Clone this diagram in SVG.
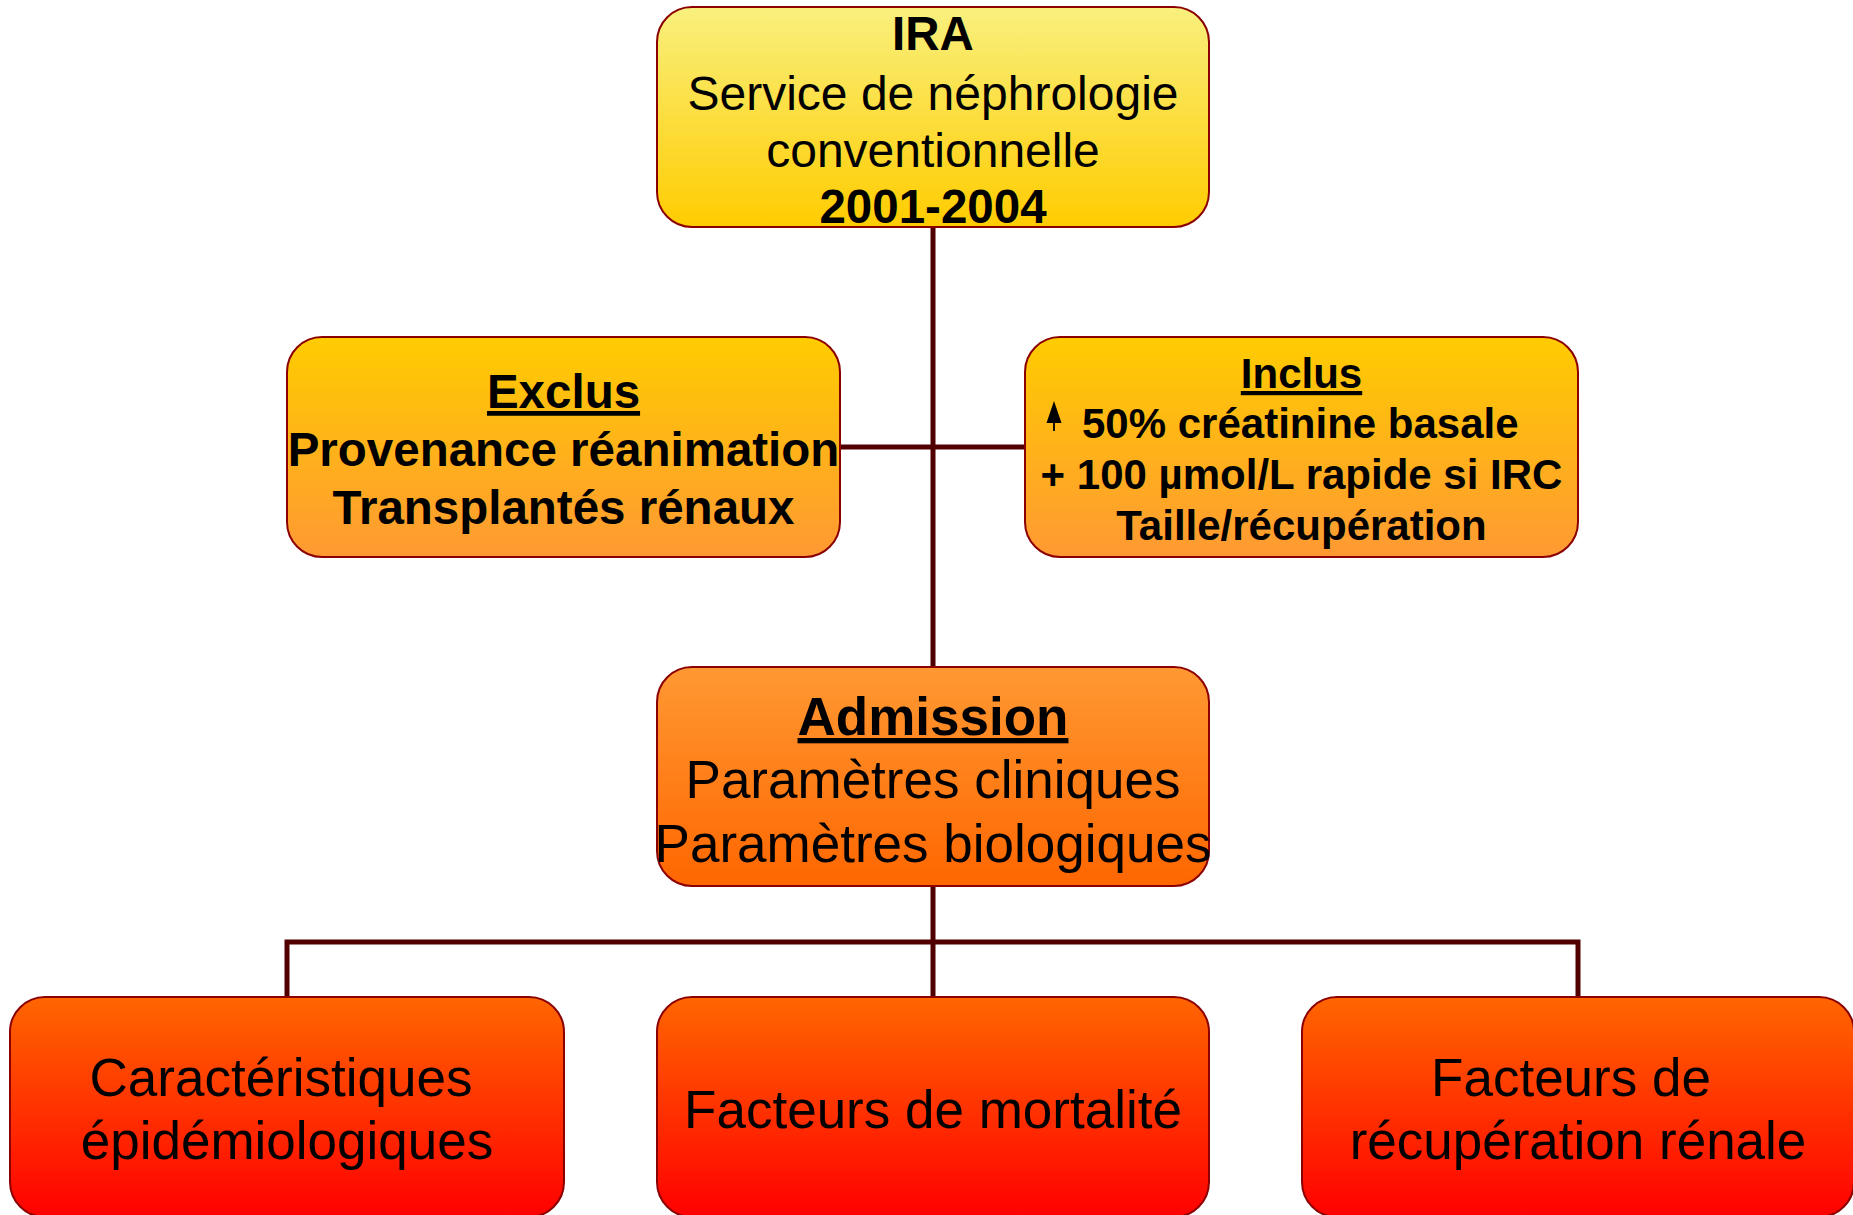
<svg xmlns="http://www.w3.org/2000/svg" width="1853" height="1215" viewBox="0 0 1853 1215">
<defs>
<linearGradient id="g1" x1="0" y1="0" x2="0" y2="1"><stop offset="0" stop-color="#f9f07e"/><stop offset="1" stop-color="#ffcc00"/></linearGradient>
<linearGradient id="g2" x1="0" y1="0" x2="0" y2="1"><stop offset="0" stop-color="#ffcc00"/><stop offset="1" stop-color="#ff9933"/></linearGradient>
<linearGradient id="g3" x1="0" y1="0" x2="0" y2="1"><stop offset="0" stop-color="#ff9933"/><stop offset="1" stop-color="#ff6600"/></linearGradient>
<linearGradient id="g4" x1="0" y1="0" x2="0" y2="1"><stop offset="0" stop-color="#ff6600"/><stop offset="1" stop-color="#ff0000"/></linearGradient>
<style>
.box{stroke:#8b0000;stroke-width:2}
.t{font-family:"Liberation Sans",Arial,sans-serif;fill:#000;text-anchor:middle}
.b{font-weight:bold}
.u{text-decoration:underline}
.conn{stroke:#500000;stroke-width:5;fill:none}
</style>
</defs>
<g id="connectors">
<line class="conn" x1="933" y1="227" x2="933" y2="667"/>
<line class="conn" x1="840" y1="447" x2="1025" y2="447"/>
<line class="conn" x1="933" y1="886" x2="933" y2="996"/>
<polyline class="conn" points="287,996 287,942 1578,942 1578,996"/>
</g>
<g id="ira">
<rect class="box" x="657" y="7" width="552" height="220" rx="35" fill="url(#g1)"/>
<text class="t b" x="933" y="50" font-size="47.5">IRA</text>
<text class="t" x="933" y="110" font-size="48">Service de néphrologie</text>
<text class="t" x="933" y="167" font-size="48">conventionnelle</text>
<text class="t b" x="933" y="223" font-size="47.5">2001-2004</text>
</g>
<g id="exclus">
<rect class="box" x="287" y="337" width="553" height="220" rx="35" fill="url(#g2)"/>
<text class="t b u" x="563.5" y="408" font-size="47.5">Exclus</text>
<text class="t b" x="563.5" y="466" font-size="47.5">Provenance réanimation</text>
<text class="t b" x="563.5" y="524" font-size="47.5">Transplantés rénaux</text>
</g>
<g id="inclus">
<rect class="box" x="1025" y="337" width="553" height="220" rx="35" fill="url(#g2)"/>
<text class="t b u" x="1301.5" y="388" font-size="42">Inclus</text>
<path d="M1054,401 L1061.5,423 L1046.5,423 Z M1053.1,423 L1054.9,423 L1054.9,431 L1053.1,431 Z" fill="#000"/>
<text class="t b" x="1082" y="438" font-size="42" style="text-anchor:start">50% créatinine basale</text>
<text class="t b" x="1301.5" y="489" font-size="42">+ 100 µmol/L rapide si IRC</text>
<text class="t b" x="1301.5" y="540" font-size="42">Taille/récupération</text>
</g>
<g id="admission">
<rect class="box" x="657" y="667" width="552" height="219" rx="35" fill="url(#g3)"/>
<text class="t b u" x="933" y="735" font-size="53">Admission</text>
<text class="t" x="933" y="798" font-size="53">Paramètres cliniques</text>
<text class="t" x="933" y="862" font-size="53">Paramètres biologiques</text>
</g>
<g id="epidemio">
<rect class="box" x="10" y="997" width="554" height="220" rx="35" fill="url(#g4)"/>
<text class="t" x="281" y="1096" font-size="53">Caractéristiques</text>
<text class="t" x="287" y="1159" font-size="53">épidémiologiques</text>
</g>
<g id="mortalite">
<rect class="box" x="657" y="997" width="552" height="220" rx="35" fill="url(#g4)"/>
<text class="t" x="933" y="1128" font-size="53">Facteurs de mortalité</text>
</g>
<g id="recuperation">
<rect class="box" x="1302" y="997" width="552" height="220" rx="35" fill="url(#g4)"/>
<text class="t" x="1571" y="1096" font-size="53">Facteurs de</text>
<text class="t" x="1578" y="1159" font-size="53">récupération rénale</text>
</g>
</svg>
